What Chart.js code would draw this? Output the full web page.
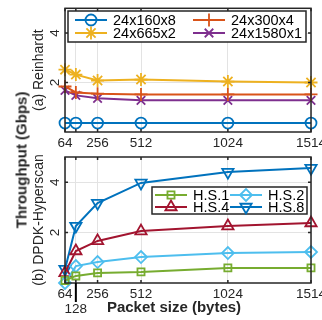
<!DOCTYPE html>
<html>
<head>
<meta charset="utf-8">
<script src="https://cdn.jsdelivr.net/npm/chart.js@4.4.1/dist/chart.umd.min.js"></script>
<style>
  body { margin: 0; background: #fff; width: 322px; height: 320px; overflow: hidden; position: relative; font-family: "Liberation Sans", Arial, sans-serif; }
  .wrap { position: absolute; left: 0; width: 322px; }
  #wrapA { top: 0; height: 160px; }
  #wrapB { top: 140px; height: 180px; }
  .bigTitle { position: absolute; font-weight: bold; font-size: 15px; white-space: nowrap; color: #262626; }
  #yTitle { left: 21px; top: 160px; transform: translate(-50%, -50%) rotate(-90deg); }
  #xTitle { left: 174px; top: 306px; transform: translate(-50%, -50%); }
</style>
</head>
<body>
<div class="wrap" id="wrapA"><canvas id="chartA"></canvas></div>
<div class="wrap" id="wrapB"><canvas id="chartB"></canvas></div>
<div class="bigTitle" id="yTitle">Throughput (Gbps)</div>
<div class="bigTitle" id="xTitle">Packet size (bytes)</div>
<script>
const packetSizes = [64, 128, 256, 512, 1024, 1514];
const xTicks = [64, 128, 256, 512, 1024, 1514];
const yTicks = [2, 4];

// (a) Reinhardt
const reinhardtLabels = ['24x160x8', '24x300x4', '24x665x2', '24x1580x1'];
const r160x8 = [0.36, 0.36, 0.36, 0.36, 0.36, 0.36];
const r300x4 = [1.84, 1.6, 1.55, 1.52, 1.52, 1.52];
const r665x2 = [2.52, 2.32, 2.08, 2.12, 2.04, 2.0];
const r1580x1 = [1.68, 1.48, 1.36, 1.28, 1.28, 1.28];

// (b) DPDK-Hyperscan
const hsLabels = ['H.S.1', 'H.S.2', 'H.S.4', 'H.S.8'];
const hs1 = [0.1, 0.28, 0.4, 0.44, 0.6, 0.6];
const hs2 = [0.0, 0.67, 0.83, 1.03, 1.19, 1.23];
const hs4 = [0.4, 1.27, 1.67, 2.06, 2.26, 2.38];
const hs8 = [0.55, 2.26, 3.17, 3.97, 4.4, 4.56];

const FONT = '"Liberation Sans", Arial, sans-serif';
const TXT = '#262626';

function series(label, values, color, style, radius, rot) {
    return {
        label: label,
        data: packetSizes.map((x, i) => ({ x: x, y: values[i] })),
        borderColor: color,
        backgroundColor: color,
        pointBorderColor: color,
        pointBackgroundColor: 'rgba(0,0,0,0)',
        pointStyle: style,
        pointRadius: radius,
        pointHoverRadius: radius,
        pointRotation: rot || 0,
        pointBorderWidth: 1.8,
        borderWidth: 2,
        tension: 0,
        clip: false
    };
}

// box frame, inner ticks and the extra 128 marker
const frame = {
    id: 'frame',
    afterDraw(chart, args, o) {
        const ctx = chart.ctx;
        const a = chart.chartArea;
        const xs = chart.scales.x, ys = chart.scales.y;
        ctx.save();
        ctx.strokeStyle = TXT;
        ctx.lineWidth = 1.5;
        ctx.beginPath();
        xTicks.forEach(v => {
            const px = xs.getPixelForValue(v);
            ctx.moveTo(px, a.bottom); ctx.lineTo(px, a.bottom - 3);
            ctx.moveTo(px, a.top); ctx.lineTo(px, a.top + 3);
        });
        yTicks.forEach(v => {
            const py = ys.getPixelForValue(v);
            ctx.moveTo(a.left, py); ctx.lineTo(a.left + 3, py);
            ctx.moveTo(a.right, py); ctx.lineTo(a.right - 3, py);
        });
        ctx.stroke();
        ctx.strokeRect(a.left, a.top, a.right - a.left, a.bottom - a.top);
        if (o.mark128) {
            const px = xs.getPixelForValue(128);
            ctx.lineWidth = 2;
            ctx.strokeStyle = '#000';
            ctx.beginPath();
            ctx.moveTo(px, a.bottom); ctx.lineTo(px, a.bottom + 19);
            ctx.stroke();
        }
        ctx.restore();
    }
};

// boxed two-column legend like matlab's
const boxLegend = {
    id: 'boxLegend',
    afterDraw(chart, args, o) {
        const ctx = chart.ctx;
        ctx.save();
        ctx.fillStyle = '#fff';
        ctx.fillRect(o.x, o.y, o.w, o.h);
        ctx.strokeStyle = TXT;
        ctx.lineWidth = 1.5;
        ctx.strokeRect(o.x, o.y, o.w, o.h);
        ctx.font = '14.5px ' + FONT;
        ctx.textBaseline = 'middle';
        chart.data.datasets.forEach((ds, i) => {
            const lx = o.x + o.colX[i % 2];
            const ly = o.y + o.rowY[Math.floor(i / 2)];
            ctx.strokeStyle = ds.borderColor;
            ctx.lineWidth = 2;
            ctx.beginPath();
            ctx.moveTo(lx, ly); ctx.lineTo(lx + o.len, ly);
            ctx.stroke();
            ctx.fillStyle = 'rgba(0,0,0,0)';
            ctx.lineWidth = 1.8;
            Chart.helpers.drawPoint(ctx, {
                pointStyle: ds.pointStyle, radius: ds.pointRadius,
                rotation: ds.pointRotation, borderWidth: 1.8
            }, lx + o.len / 2, ly);
            ctx.fillStyle = '#000';
            ctx.fillText(ds.label, lx + o.len + 6, ly + 1);
        });
        ctx.restore();
    }
};

function makeChart(id, datasets, cfg) {
    return new Chart(document.getElementById(id), {
        type: 'line',
        data: { datasets: datasets },
        plugins: [frame, boxLegend],
        options: {
            responsive: true,
            maintainAspectRatio: false,
            animation: false,
            events: [],
            layout: { padding: { top: cfg.top, right: 11, left: 0, bottom: 0 } },
            plugins: {
                legend: { display: false },
                tooltip: { enabled: false },
                frame: { mark128: cfg.mark128 },
                boxLegend: cfg.legend
            },
            scales: {
                x: {
                    type: 'linear',
                    min: 64,
                    max: 1514,
                    afterBuildTicks: s => { s.ticks = xTicks.map(v => ({ value: v })); },
                    afterFit: s => { s.height = cfg.xh; s.paddingLeft = 0; s.paddingRight = 0; },
                    grid: { color: '#e3e3e3', lineWidth: 1, drawTicks: false },
                    border: { display: false },
                    ticks: {
                        autoSkip: false,
                        maxRotation: 0,
                        padding: 4,
                        color: TXT,
                        font: { family: FONT, size: 13.5, lineHeight: 1.1 },
                        callback: v => cfg.xLabel(v)
                    }
                },
                y: {
                    min: 0,
                    max: 5,
                    afterBuildTicks: s => { s.ticks = yTicks.map(v => ({ value: v })); },
                    afterFit: s => { s.width = 65; s.paddingTop = 0; s.paddingBottom = 0; },
                    grid: { color: '#e3e3e3', lineWidth: 1, drawTicks: false },
                    border: { display: false },
                    ticks: {
                        minRotation: 90,
                        maxRotation: 90,
                        crossAlign: 'center',
                        padding: 6,
                        color: TXT,
                        font: { family: FONT, size: 13.5 }
                    },
                    title: {
                        display: true,
                        text: cfg.yTitle,
                        color: TXT,
                        font: { family: FONT, size: 14 },
                        padding: { top: 31, bottom: 0 }
                    }
                }
            }
        }
    });
}

makeChart('chartA', [
    series(reinhardtLabels[0], r160x8, '#0072BD', 'circle', 5.5),
    series(reinhardtLabels[1], r300x4, '#D95319', 'cross', 6.5),
    series(reinhardtLabels[2], r665x2, '#EDB120', 'star', 6.5),
    series(reinhardtLabels[3], r1580x1, '#7E2F8E', 'crossRot', 6)
], {
    top: 7, xh: 28, mark128: false, yTitle: '(a) Reinhardt',
    xLabel: v => (v === 128 ? '' : String(v)),
    legend: { x: 68, y: 11, w: 238, h: 31, colX: [7, 125], rowY: [9, 22], len: 32 }
});

makeChart('chartB', [
    series(hsLabels[0], hs1, '#77AC30', 'rect', 5),
    series(hsLabels[1], hs2, '#4DBEEE', 'rectRot', 6),
    series(hsLabels[2], hs4, '#A2142F', 'triangle', 6.5),
    series(hsLabels[3], hs8, '#0072BD', 'triangle', 6.5, 180)
], {
    top: 17, xh: 37, mark128: true, yTitle: '(b) DPDK-Hyperscan',
    xLabel: v => (v === 128 ? ['', '128'] : String(v)),
    legend: { x: 152, y: 47, w: 155, h: 27, colX: [3, 78], rowY: [8, 20], len: 32 }
});
</script>
</body>
</html>
